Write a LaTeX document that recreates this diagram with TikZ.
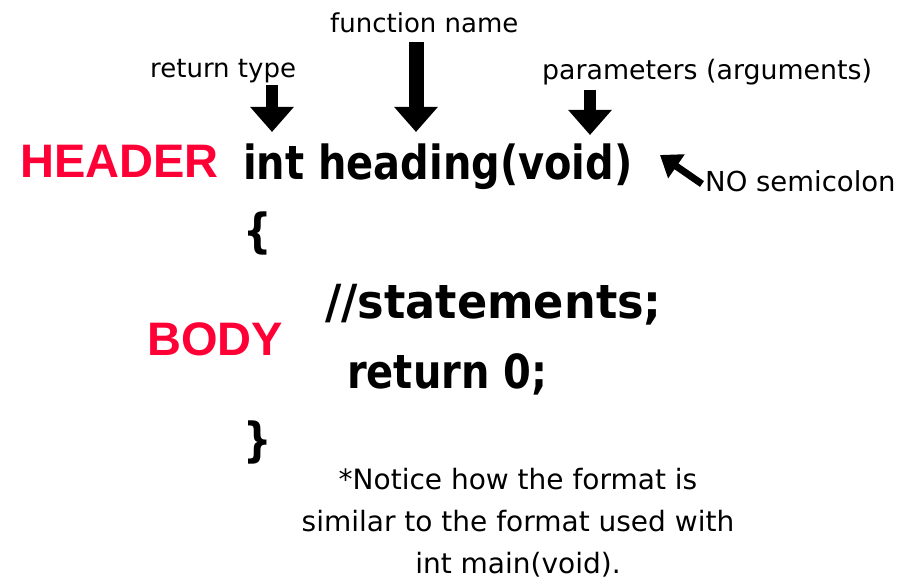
\documentclass[tikz,border=0pt]{standalone}
\usepackage{fontspec}
\setmainfont{DejaVu Sans}
\newfontfamily\codefont[FakeStretch=0.85]{DejaVu Sans}
\newfontfamily\widecodefont[FakeStretch=0.95]{DejaVu Sans}
\newfontfamily\tagfont{Liberation Sans}
\usetikzlibrary{arrows.meta}
\definecolor{tagred}{HTML}{FF0036}

\begin{document}
\begin{tikzpicture}[x=1pt,y=-1pt,
  note/.style={anchor=base west,inner sep=0pt,font=\fontsize{26}{41}\selectfont},
  code/.style={anchor=base west,inner sep=0pt,font=\codefont\bfseries\fontsize{47}{50}\selectfont},
  tag/.style={anchor=base west,inner sep=0pt,text=tagred,font=\tagfont\bfseries\fontsize{47}{50}\selectfont},
  bigarr/.style={-{Triangle[width=42pt,length=25pt]},line width=12pt},
  smallarr/.style={-{Triangle[width=28pt,length=20pt]},line width=7pt}
]
\useasboundingbox (0,0) rectangle (900,580);
% labels on top
\node[note] (fname)  at (330,33) {function name};
\node[note] (rtype)  at (150,78) {return type};
\node[note,font=\fontsize{26.8}{41}\selectfont] (params) at (542,80) {parameters (arguments)};
% header line
\node[tag]  (header) at (20,178)  {HEADER};
\node[code] (sig)    at (243,180) {int heading(void)};
\node[note,font=\fontsize{27.5}{41}\selectfont] (nosemi) at (705,192) {NO semicolon};
% body
\node[code] (open)   at (243,248) {\{};
\node[code,font=\widecodefont\bfseries\fontsize{47}{50}\selectfont] (stmt) at (325,318) {//statements;};
\node[tag]  (body)   at (147,355) {BODY};
\node[code] (ret)    at (347,388) {return 0;};
\node[code] (close)  at (243,456) {\}};
\node[note,anchor=north,align=center,font=\fontsize{28}{42}\selectfont] (notice) at (518,468)
  {*Notice how the format is\\similar to the format used with\\int main(void).};
% arrows
\coordinate (rt-top) at (272,85);  \coordinate (rt-tip) at (272,132);
\coordinate (fn-top) at (416,42);  \coordinate (fn-tip) at (416,132);
\coordinate (pa-top) at (590,90);  \coordinate (pa-tip) at (590,135);
\coordinate (ns-end) at (702,184); \coordinate (ns-tip) at (660,155);
\draw[bigarr] (rt-top) -- (rt-tip);
\draw[bigarr,line width=15pt] (fn-top) -- (fn-tip);
\draw[bigarr] (pa-top) -- (pa-tip);
\draw[smallarr] (ns-end) -- (ns-tip);
\end{tikzpicture}
\end{document}
